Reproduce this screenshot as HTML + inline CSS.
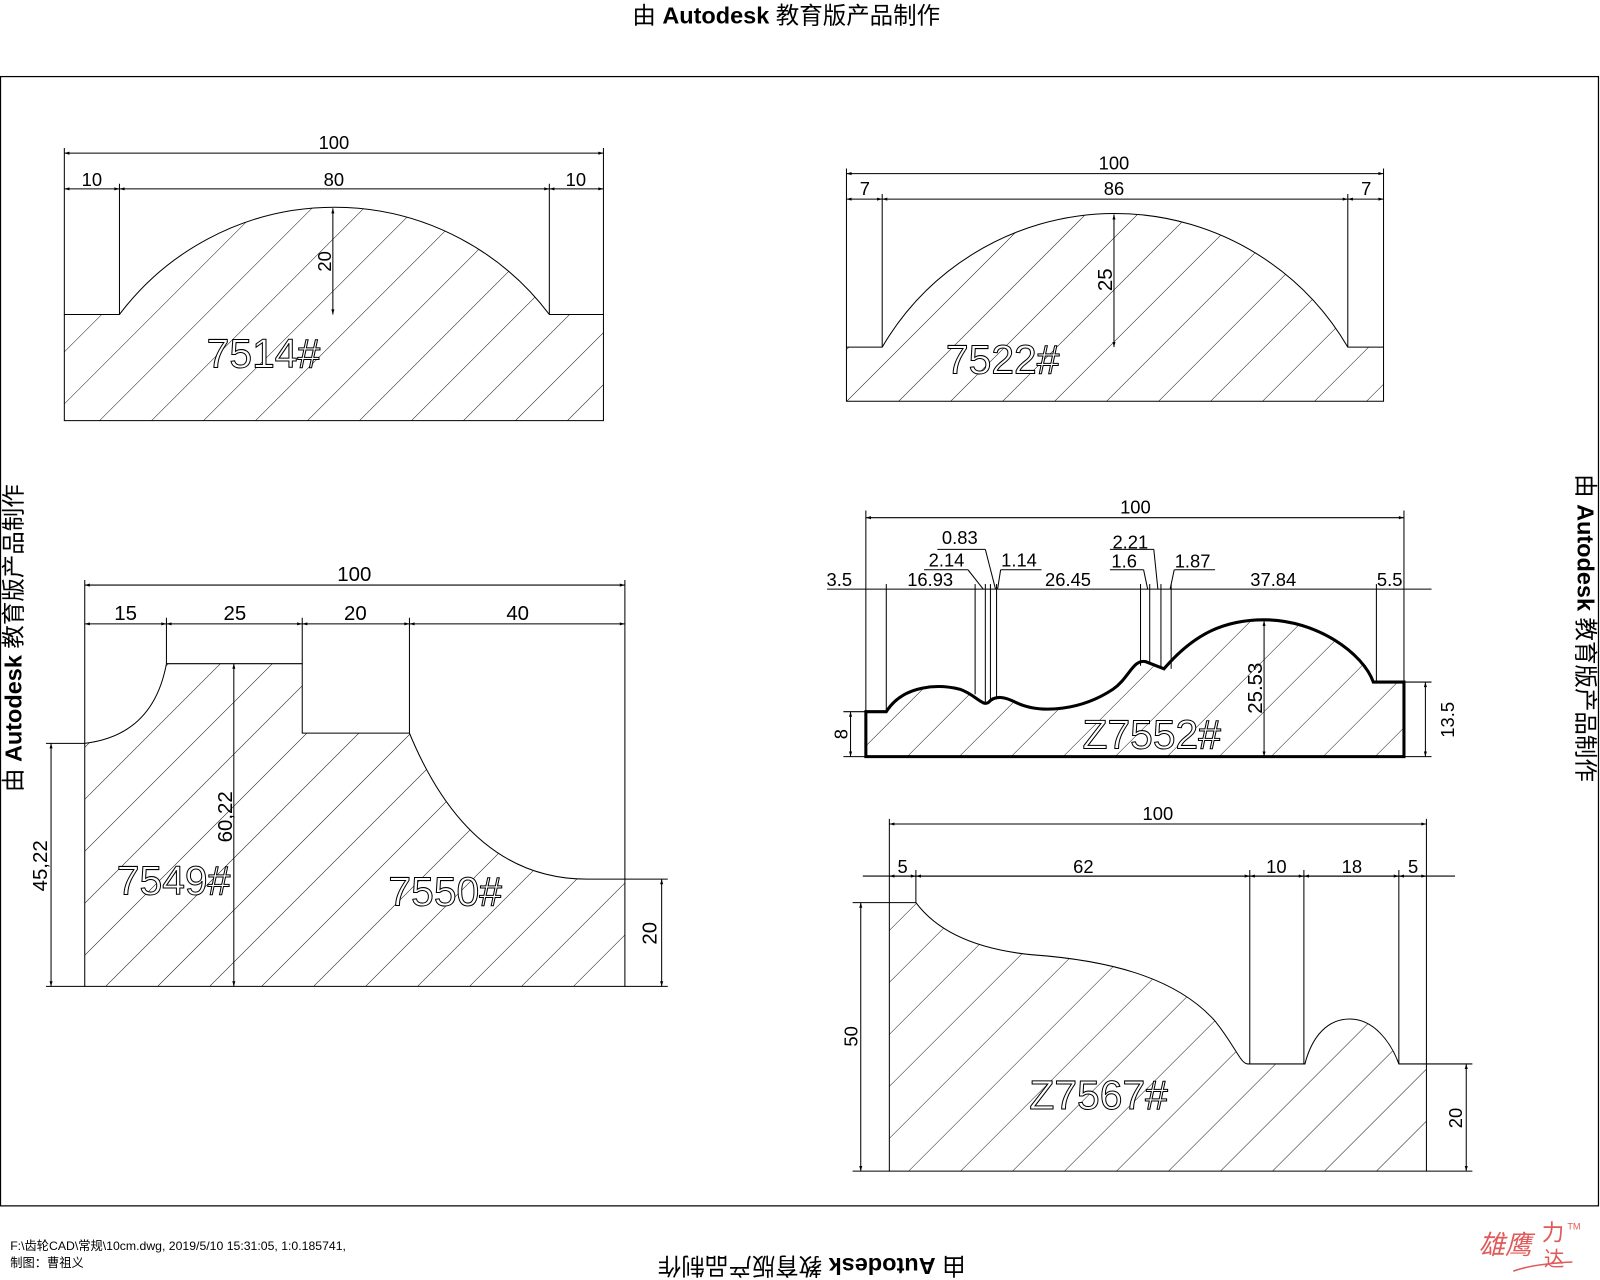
<!DOCTYPE html>
<html><head><meta charset="utf-8"><style>
html,body{margin:0;padding:0;background:#fff;}
svg{display:block;}
text{font-family:"Liberation Sans","Noto Sans CJK SC",sans-serif;fill:#000;}
text.big{fill:#fff;stroke:#000;stroke-width:1;}
</style></head><body>
<svg width="1600" height="1280" viewBox="0 0 1567 1253.6" xmlns="http://www.w3.org/2000/svg">
<defs>
<pattern id="h" patternUnits="userSpaceOnUse" width="36" height="36" patternTransform="rotate(45)">
<line x1="0" y1="0" x2="0" y2="36" stroke="#000" stroke-width="0.9"/>
</pattern>
<marker id="a" viewBox="0 0 10 10" refX="10" refY="5" markerWidth="9" markerHeight="5" orient="auto-start-reverse"><path d="M0,2 L10,5 L0,8z" fill="#000"/></marker>
</defs>
<rect width="1567" height="1254" fill="#fff"/>
<rect x="0.5" y="75" width="1565" height="1106" fill="none" stroke="#000" stroke-width="1.2"/>

<text x="770" y="23" font-size="23" text-anchor="middle">由 <tspan font-weight="bold">Autodesk</tspan> 教育版产品制作</text>
<text transform="translate(795,1232) rotate(180)" font-size="23" text-anchor="middle">由 <tspan font-weight="bold">Autodesk</tspan> 教育版产品制作</text>
<text transform="translate(21,625) rotate(-90)" font-size="23" text-anchor="middle">由 <tspan font-weight="bold">Autodesk</tspan> 教育版产品制作</text>
<text transform="translate(1545,615) rotate(90)" font-size="23" text-anchor="middle">由 <tspan font-weight="bold">Autodesk</tspan> 教育版产品制作</text>

<g stroke="#000" stroke-width="1" fill="none">
<path d="M63,412 L63,308 L117,308 A263.5,263.5 0 0 1 538,308 L591,308 L591,412 Z" fill="url(#h)"/>
<line x1="63" y1="145" x2="63" y2="308"/><line x1="591" y1="145" x2="591" y2="308"/>
<line x1="117" y1="180" x2="117" y2="308"/><line x1="538" y1="180" x2="538" y2="308"/>
<line x1="63" y1="150" x2="591" y2="150" marker-start="url(#a)" marker-end="url(#a)"/>
<line x1="63" y1="185" x2="117" y2="185" marker-start="url(#a)" marker-end="url(#a)"/>
<line x1="117" y1="185" x2="538" y2="185" marker-start="url(#a)" marker-end="url(#a)"/>
<line x1="538" y1="185" x2="591" y2="185" marker-start="url(#a)" marker-end="url(#a)"/>
<line x1="326" y1="204" x2="326" y2="308" marker-start="url(#a)" marker-end="url(#a)"/>
<path d="M829,393 L829,340 L864,340 A264,264 0 0 1 1320,340 L1355,340 L1355,393 Z" fill="url(#h)"/>
<line x1="829" y1="165" x2="829" y2="340"/><line x1="1355" y1="165" x2="1355" y2="340"/>
<line x1="864" y1="190" x2="864" y2="340"/><line x1="1320" y1="190" x2="1320" y2="340"/>
<line x1="829" y1="170" x2="1355" y2="170" marker-start="url(#a)" marker-end="url(#a)"/>
<line x1="829" y1="195" x2="864" y2="195" marker-start="url(#a)" marker-end="url(#a)"/>
<line x1="864" y1="195" x2="1320" y2="195" marker-start="url(#a)" marker-end="url(#a)"/>
<line x1="1320" y1="195" x2="1355" y2="195" marker-start="url(#a)" marker-end="url(#a)"/>
<line x1="1091" y1="210" x2="1091" y2="340" marker-start="url(#a)" marker-end="url(#a)"/>
<path d="M83,966 L83,728 Q150,720 163,650 L296,650 L296,718 L401,718 Q460,861 575,861 L612,861 L612,966 Z" fill="url(#h)"/>
<line x1="83" y1="568" x2="83" y2="728"/><line x1="612" y1="568" x2="612" y2="861"/>
<line x1="163" y1="605" x2="163" y2="650"/><line x1="296" y1="605" x2="296" y2="650"/><line x1="401" y1="605" x2="401" y2="718"/>
<line x1="83" y1="573" x2="612" y2="573" marker-start="url(#a)" marker-end="url(#a)"/>
<line x1="83" y1="611" x2="163" y2="611" marker-start="url(#a)" marker-end="url(#a)"/>
<line x1="163" y1="611" x2="296" y2="611" marker-start="url(#a)" marker-end="url(#a)"/>
<line x1="296" y1="611" x2="401" y2="611" marker-start="url(#a)" marker-end="url(#a)"/>
<line x1="401" y1="611" x2="612" y2="611" marker-start="url(#a)" marker-end="url(#a)"/>
<line x1="229" y1="650" x2="229" y2="966" marker-start="url(#a)" marker-end="url(#a)"/>
<line x1="45" y1="728" x2="83" y2="728"/><line x1="45" y1="966" x2="83" y2="966"/>
<line x1="50" y1="728" x2="50" y2="966" marker-start="url(#a)" marker-end="url(#a)"/>
<line x1="612" y1="861" x2="654" y2="861"/><line x1="612" y1="966" x2="654" y2="966"/>
<line x1="648" y1="861" x2="648" y2="966" marker-start="url(#a)" marker-end="url(#a)"/>
<path d="M848,741 L848,697 L868,697 C885,670 920,670 940,675 C955,680 962,692 968,688 C975,680 985,683 995,688 C1020,700 1060,695 1090,675 C1105,665 1110,645 1122,648 L1140,655 C1170,620 1200,607 1238,607 C1290,607 1335,640 1345,668 L1375,668 L1375,741 Z" fill="url(#h)" stroke-width="3"/>
<line x1="848" y1="500" x2="848" y2="697"/><line x1="1375" y1="500" x2="1375" y2="668"/>
<line x1="868" y1="572" x2="868" y2="697"/><line x1="1348" y1="572" x2="1348" y2="668"/>
<line x1="955" y1="572" x2="955" y2="680"/><line x1="965" y1="572" x2="965" y2="688"/><line x1="970" y1="572" x2="970" y2="688"/><line x1="976" y1="572" x2="976" y2="685"/>
<line x1="1117" y1="572" x2="1117" y2="652"/><line x1="1126" y1="572" x2="1126" y2="650"/><line x1="1137" y1="572" x2="1137" y2="655"/><line x1="1147" y1="572" x2="1147" y2="655"/>
<line x1="848" y1="507" x2="1375" y2="507" marker-start="url(#a)" marker-end="url(#a)"/>
<line x1="810" y1="577" x2="1402" y2="577"/>
<line x1="905" y1="558" x2="948" y2="558"/><line x1="948" y1="558" x2="963" y2="577"/>
<line x1="918" y1="538" x2="965" y2="538"/><line x1="965" y1="538" x2="975" y2="577"/>
<line x1="980" y1="558" x2="1020" y2="558"/><line x1="980" y1="558" x2="977" y2="577"/>
<line x1="1087" y1="538" x2="1130" y2="538"/><line x1="1130" y1="538" x2="1134" y2="577"/>
<line x1="1087" y1="558" x2="1120" y2="558"/><line x1="1120" y1="558" x2="1124" y2="577"/>
<line x1="1150" y1="558" x2="1190" y2="558"/><line x1="1150" y1="558" x2="1146" y2="577"/>
<line x1="1238" y1="608" x2="1238" y2="741" marker-start="url(#a)" marker-end="url(#a)"/>
<line x1="826" y1="697" x2="848" y2="697"/><line x1="826" y1="741" x2="848" y2="741"/>
<line x1="833" y1="697" x2="833" y2="741" marker-start="url(#a)" marker-end="url(#a)"/>
<line x1="1375" y1="668" x2="1402" y2="668"/><line x1="1375" y1="741" x2="1402" y2="741"/>
<line x1="1396" y1="668" x2="1396" y2="741" marker-start="url(#a)" marker-end="url(#a)"/>
<path d="M871,1147 L871,884 L897,884 C920,915 960,930 1010,935 C1080,940 1150,955 1190,1000 C1210,1025 1215,1042 1222,1042 L1278,1042 C1285,1015 1300,998 1322,998 C1345,998 1362,1020 1370,1042 L1397,1042 L1397,1147 Z" fill="url(#h)"/>
<line x1="871" y1="802" x2="871" y2="884"/><line x1="1397" y1="802" x2="1397" y2="1042"/>
<line x1="897" y1="852" x2="897" y2="884"/><line x1="1224" y1="852" x2="1224" y2="1042"/><line x1="1277" y1="852" x2="1277" y2="1042"/><line x1="1370" y1="852" x2="1370" y2="1042"/>
<line x1="871" y1="807" x2="1397" y2="807" marker-start="url(#a)" marker-end="url(#a)"/>
<line x1="845" y1="858" x2="1425" y2="858"/>
<line x1="871" y1="858" x2="897" y2="858" marker-start="url(#a)" marker-end="url(#a)"/>
<line x1="897" y1="858" x2="1224" y2="858" marker-start="url(#a)" marker-end="url(#a)"/>
<line x1="1224" y1="858" x2="1277" y2="858" marker-start="url(#a)" marker-end="url(#a)"/>
<line x1="1277" y1="858" x2="1370" y2="858" marker-start="url(#a)" marker-end="url(#a)"/>
<line x1="1370" y1="858" x2="1397" y2="858" marker-start="url(#a)" marker-end="url(#a)"/>
<line x1="835" y1="884" x2="871" y2="884"/><line x1="835" y1="1147" x2="871" y2="1147"/>
<line x1="843" y1="884" x2="843" y2="1147" marker-start="url(#a)" marker-end="url(#a)"/>
<line x1="1397" y1="1042" x2="1442" y2="1042"/><line x1="1397" y1="1147" x2="1442" y2="1147"/>
<line x1="1436" y1="1042" x2="1436" y2="1147" marker-start="url(#a)" marker-end="url(#a)"/>
</g>

<g font-size="18" text-anchor="middle">
<text x="327" y="146">100</text><text x="90" y="182">10</text><text x="327" y="182">80</text><text x="564" y="182">10</text>
<text transform="translate(324,256) rotate(-90)">20</text>
<text x="1091" y="166">100</text><text x="847" y="191">7</text><text x="1091" y="191">86</text><text x="1338" y="191">7</text>
<text transform="translate(1089,274) rotate(-90)" font-size="20">25</text>
<text x="347" y="569" font-size="20">100</text><text x="123" y="607" font-size="20">15</text><text x="230" y="607" font-size="20">25</text><text x="348" y="607" font-size="20">20</text><text x="507" y="607" font-size="20">40</text>
<text transform="translate(227,800) rotate(-90)" font-size="20">60,22</text>
<text transform="translate(46,848) rotate(-90)" font-size="20">45,22</text>
<text transform="translate(643,914) rotate(-90)" font-size="20">20</text>
<text x="1112" y="503">100</text>
<text x="822" y="574">3.5</text><text x="911" y="574">16.93</text><text x="940" y="533">0.83</text><text x="927" y="555">2.14</text><text x="998" y="555">1.14</text><text x="1046" y="574">26.45</text>
<text x="1107" y="537">2.21</text><text x="1101" y="556">1.6</text><text x="1168" y="556">1.87</text><text x="1247" y="574">37.84</text><text x="1361" y="574">5.5</text>
<text transform="translate(1236,674) rotate(-90)" font-size="20">25.53</text>
<text transform="translate(830,719) rotate(-90)">8</text>
<text transform="translate(1424,705) rotate(-90)">13.5</text>
<text x="1134" y="803">100</text><text x="884" y="855">5</text><text x="1061" y="855">62</text><text x="1250" y="855">10</text><text x="1324" y="855">18</text><text x="1384" y="855">5</text>
<text transform="translate(840,1015) rotate(-90)">50</text>
<text transform="translate(1432,1095) rotate(-90)">20</text>
</g>
<g font-size="40" text-anchor="middle">
<text class="big" x="258" y="360">7514#</text>
<text class="big" x="982" y="366">7522#</text>
<text class="big" x="170" y="876">7549#</text>
<text class="big" x="436" y="887">7550#</text>
<text class="big" x="1128" y="733">Z7552#</text>
<text class="big" x="1076" y="1086">Z7567#</text>
</g>
<text x="10" y="1224" font-size="12">F:\齿轮CAD\常规\10cm.dwg, 2019/5/10 15:31:05, 1:0.185741,</text>
<text x="10" y="1241" font-size="12">制图：曹祖义</text>
<g>
<text x="1448" y="1228" font-size="26" style="font-style:italic;fill:#e05a5a">雄鹰</text>
<text x="1510" y="1215" font-size="22" style="fill:#e05a5a">力</text>
<text x="1512" y="1240" font-size="20" style="fill:#e05a5a">达</text>
<text x="1535" y="1204" font-size="9" style="fill:#e05a5a">TM</text>
<path d="M1482,1245 Q1500,1238 1540,1236" stroke="#e05a5a" stroke-width="1.5" fill="none"/>
</g>
</svg>
</body></html>
